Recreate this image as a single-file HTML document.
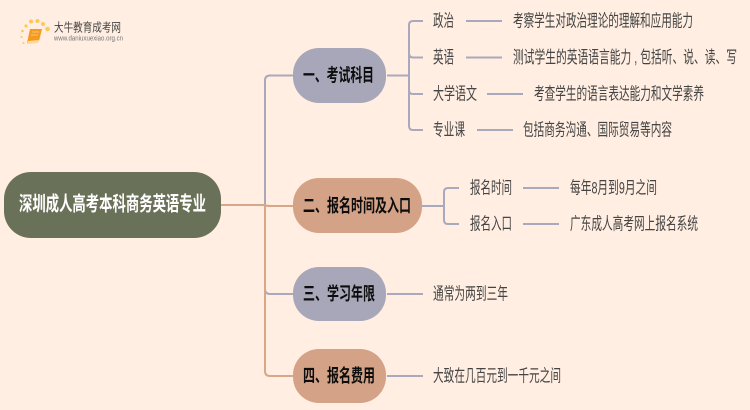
<!DOCTYPE html>
<html lang="zh">
<head>
<meta charset="utf-8">
<style>
html,body{margin:0;padding:0;background:#ffeee1;width:750px;height:410px;overflow:hidden}
svg{display:block;filter:blur(0.35px)}
text{font-family:"Liberation Sans","Noto Sans CJK SC",sans-serif}
.t{font-size:17px;fill:#444;dominant-baseline:central}
.b{font-size:18px;font-weight:700;fill:#0d0d0d;dominant-baseline:central}
.p{fill:none;stroke:#a9a9bd;stroke-width:2}
.o{fill:none;stroke:#d7a78a;stroke-width:2}
</style>
</head>
<body>
<svg width="750" height="410" viewBox="0 0 750 410" xmlns="http://www.w3.org/2000/svg">
<rect width="750" height="410" fill="#ffeee1"/>

<!-- logo -->
<g fill="#fbc95a">
<circle cx="26" cy="26" r="1.6"/><circle cx="31" cy="21.500" r="2"/><circle cx="37.500" cy="21" r="2"/><circle cx="43" cy="24" r="2"/><circle cx="47.500" cy="29" r="2.300"/><circle cx="22.500" cy="31" r="1.300"/><circle cx="21.500" cy="37" r="1"/><circle cx="23.500" cy="43" r="1"/>
</g>
<path d="M30 29 H42 L39 41 Q34 42 27 43 Z" fill="#f39a1f"/>
<path d="M28 41 L39 40 L38 43 L27 44 Z" fill="#fbd9a0"/>
<path d="M32 32 H39 M31 35 H38" stroke="#ffd28a" stroke-width="0.8" fill="none"/>
<text x="54" y="27.500" font-size="12" fill="#444" dominant-baseline="central" textLength="67" lengthAdjust="spacingAndGlyphs">大牛教育成考网</text>
<text x="54" y="39" font-size="7" fill="#777" dominant-baseline="central" textLength="69" lengthAdjust="spacingAndGlyphs">www.daniuxuexiao.org.cn</text>

<!-- main connectors -->
<path class="p" d="M293 75.500 H270 Q265 75.500 265 80.500 V205"/>
<path class="p" d="M293 294 H270 Q265 294 265 289 V205"/>
<path class="o" d="M221 205 H265 Q266 206 271 206 H293"/>
<path class="o" d="M265 205 V371 Q265 376 270 376 H293"/>

<!-- branch 1 connectors -->
<path class="p" d="M387 75.500 H409"/>
<path class="p" d="M423 21 H413 Q409 21 409 25 V126 Q409 130 413 130 H423"/>
<path class="p" d="M409 53 Q409 57.500 413 57.500 H423"/>
<path class="p" d="M409 90 Q409 94 413 94 H423"/>
<path class="p" d="M466 21 H502 M466 57.500 H502 M487 94 H523 M477 130 H513"/>

<!-- branch 2 connectors -->
<path class="p" d="M422 206 H444"/>
<path class="p" d="M459 188 H448 Q444 188 444 192 V220 Q444 224 448 224 H459"/>
<path class="p" d="M523 188 H559 M523 224 H559"/>

<!-- branch 3/4 connectors -->
<path class="p" d="M387 294 H423 M387 376 H423"/>

<!-- nodes -->
<rect x="4" y="172" width="217" height="66" rx="27" fill="#6a7159"/>
<text x="19" y="204.500" font-size="20" font-weight="700" fill="#fff" dominant-baseline="central" textLength="187" lengthAdjust="spacingAndGlyphs">深圳成人高考本科商务英语专业</text>

<rect x="293" y="48" width="93" height="55" rx="26" fill="#a7a7b9"/>
<text class="b" x="303" y="75.500" textLength="71" lengthAdjust="spacingAndGlyphs">一、考试科目</text>

<rect x="293" y="178" width="129" height="55" rx="26" fill="#d3a287"/>
<text class="b" x="303" y="206" textLength="108" lengthAdjust="spacingAndGlyphs">二、报名时间及入口</text>

<rect x="293" y="267" width="93" height="54" rx="26" fill="#a7a7b9"/>
<text class="b" x="303" y="294" textLength="72" lengthAdjust="spacingAndGlyphs">三、学习年限</text>

<rect x="293" y="349" width="93" height="54" rx="26" fill="#d3a287"/>
<text class="b" x="303" y="376" textLength="72" lengthAdjust="spacingAndGlyphs">四、报名费用</text>

<!-- labels -->
<text class="t" x="433" y="21" textLength="21" lengthAdjust="spacingAndGlyphs">政治</text>
<text class="t" x="513" y="21" textLength="180" lengthAdjust="spacingAndGlyphs">考察学生对政治理论的理解和应用能力</text>
<text class="t" x="433" y="57.500" textLength="21" lengthAdjust="spacingAndGlyphs">英语</text>
<text class="t" x="513" y="57.500" textLength="224" lengthAdjust="spacingAndGlyphs">测试学生的英语语言能力 , 包括听、说、读、写</text>
<text class="t" x="433" y="94" textLength="44" lengthAdjust="spacingAndGlyphs">大学语文</text>
<text class="t" x="534" y="94" textLength="170" lengthAdjust="spacingAndGlyphs">考查学生的语言表达能力和文学素养</text>
<text class="t" x="433" y="130" textLength="32" lengthAdjust="spacingAndGlyphs">专业课</text>
<text class="t" x="523" y="130" textLength="149" lengthAdjust="spacingAndGlyphs">包括商务沟通、国际贸易等内容</text>

<text class="t" x="470" y="188" textLength="42" lengthAdjust="spacingAndGlyphs">报名时间</text>
<text class="t" x="570" y="188" textLength="87" lengthAdjust="spacingAndGlyphs">每年8月到9月之间</text>
<text class="t" x="470" y="224" textLength="42" lengthAdjust="spacingAndGlyphs">报名入口</text>
<text class="t" x="570" y="224" textLength="128" lengthAdjust="spacingAndGlyphs">广东成人高考网上报名系统</text>

<text class="t" x="433" y="294" textLength="75" lengthAdjust="spacingAndGlyphs">通常为两到三年</text>
<text class="t" x="433" y="376" textLength="128" lengthAdjust="spacingAndGlyphs">大致在几百元到一千元之间</text>
</svg>
</body>
</html>
